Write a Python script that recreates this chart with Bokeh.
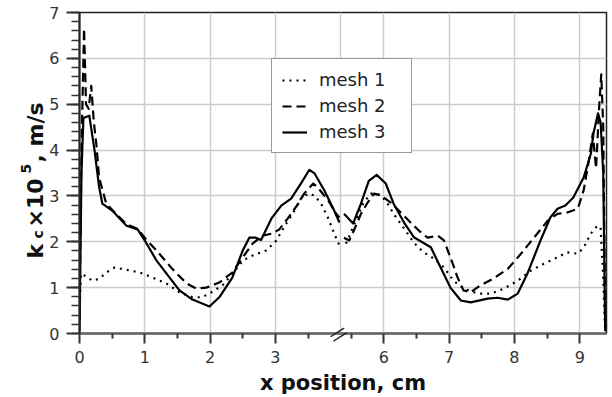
import math

from bokeh.plotting import figure
from bokeh.layouts import row
from bokeh.models import Range1d, FixedTicker, Legend, LegendItem, LinearAxis
from bokeh.core.properties import value
from bokeh.embed import file_html
from bokeh.resources import INLINE

# ---- data: local mass-transfer coefficient along the cell (x in cm) ----
mesh1_x = [0.0, 0.02, 0.08, 0.2, 0.31, 0.41, 0.54, 0.72, 0.92, 1.12, 1.33,
           1.53, 1.73, 1.88, 2.02, 2.19, 2.34, 2.5, 2.65, 2.86, 3.01, 3.13,
           3.29, 3.39, 3.5, 3.6, 3.7, 3.81, 3.9, 3.98,
           5.42, 5.49, 5.57, 5.68, 5.8, 5.9, 6.03, 6.15, 6.31, 6.46, 6.6,
           6.77, 6.92, 7.07, 7.22, 7.44, 7.64, 7.84, 8.05, 8.25, 8.45, 8.66,
           8.81, 8.97, 9.06, 9.17, 9.27, 9.32, 9.36, 9.39]
mesh1_k = [0.3, 1.3, 1.26, 1.15, 1.2, 1.33, 1.44, 1.39, 1.33, 1.22, 1.09,
           0.9, 0.79, 0.79, 0.9, 1.05, 1.3, 1.59, 1.7, 1.81, 2.02, 2.31,
           2.68, 2.94, 3.05, 3.01, 2.83, 2.51, 2.18, 1.92,
           1.96, 2.18, 2.46, 2.83, 3.05, 3.05, 2.9, 2.61, 2.29, 1.98, 1.78,
           1.63, 1.44, 1.15, 0.98, 0.87, 0.87, 0.98, 1.15, 1.37, 1.52, 1.66,
           1.77, 1.74, 1.87, 2.18, 2.35, 2.31, 1.2, 0.05]

mesh2_x = [0.0, 0.03, 0.07, 0.1, 0.14, 0.18, 0.22, 0.26, 0.3, 0.41, 0.5,
           0.72, 0.89, 1.02, 1.18, 1.42, 1.64, 1.79, 1.94, 2.14, 2.34, 2.5,
           2.65, 2.8, 2.95, 3.06, 3.19, 3.35, 3.44, 3.58, 3.65, 3.81, 3.93,
           3.98,
           5.39, 5.47, 5.54, 5.65, 5.75, 5.85, 5.96, 6.11, 6.26, 6.41, 6.54,
           6.67, 6.83, 6.92, 7.02, 7.13, 7.22, 7.33, 7.48, 7.68, 7.9, 8.1,
           8.3, 8.51, 8.66, 8.81, 8.97, 9.06, 9.14, 9.2, 9.25, 9.3, 9.33,
           9.36, 9.39]
mesh2_k = [0.3, 4.0, 6.65, 5.0, 4.9, 5.4, 4.6, 4.1, 3.4, 2.83, 2.7,
           2.38, 2.28, 2.05, 1.81, 1.41, 1.09, 0.98, 1.0, 1.11, 1.33, 1.66,
           1.96, 2.13, 2.18, 2.27, 2.51, 2.83, 3.05, 3.27, 3.18, 2.9, 2.61,
           2.53,
           2.09, 2.03, 2.24, 2.61, 2.85, 3.05, 3.01, 2.85, 2.64, 2.42, 2.24,
           2.09, 2.13, 2.03, 1.66, 1.22, 0.94, 0.9, 1.05, 1.2, 1.41, 1.74,
           2.09, 2.46, 2.61, 2.64, 2.72, 3.12, 3.77, 4.36, 3.6, 5.0, 5.65,
           4.5, 0.05]

mesh3_x = [0.0, 0.03, 0.06, 0.15, 0.23, 0.3, 0.35, 0.5, 0.72, 0.89, 1.02,
           1.18, 1.38, 1.53, 1.73, 1.99, 2.14, 2.34, 2.5, 2.6, 2.7, 2.78,
           2.94, 3.09, 3.24, 3.39, 3.52, 3.6, 3.75, 3.9, 3.98,
           5.39, 5.53, 5.65, 5.77, 5.89, 6.03, 6.15, 6.31, 6.46, 6.72, 6.87,
           7.02, 7.18, 7.33, 7.59, 7.74, 7.9, 8.05, 8.2, 8.4, 8.55, 8.66,
           8.78, 8.9, 9.06, 9.17, 9.21, 9.28, 9.32, 9.36, 9.39]
mesh3_k = [0.05, 3.5, 4.7, 4.75, 4.0, 3.2, 2.83, 2.68, 2.35, 2.27, 1.98,
           1.59, 1.22, 0.94, 0.74, 0.59, 0.79, 1.22, 1.81, 2.09, 2.09, 2.04,
           2.51, 2.79, 2.94, 3.27, 3.57, 3.49, 3.12, 2.68, 2.42,
           2.61, 2.4, 2.83, 3.33, 3.46, 3.27, 2.83, 2.42, 2.1, 1.88, 1.44,
           1.0, 0.72, 0.68, 0.76, 0.78, 0.74, 0.87, 1.31, 2.03, 2.53, 2.72,
           2.79, 2.96, 3.4, 3.92, 4.36, 4.8, 4.6, 3.5, 0.05]

series_names = ["mesh 1", "mesh 2", "mesh 3"]
series_dash = ["2 5", "9 5", "solid"]

x_major = [0, 1, 2, 3, 6, 7, 8, 9]
x_minor = [0.5, 1.5, 2.5, 3.5, 5.5, 6.5, 7.5, 8.5]
x_grid = [1, 2, 3, 4, 6, 7, 8, 9]
x_end = 9.41

# ---- broken x axis: the stretch between BREAK_AT and RESUME_AT is cut out ----
BREAK_AT = 4.0
RESUME_AT = 5.34
GAP = RESUME_AT - BREAK_AT


def to_axis(x):
    return x if x <= BREAK_AT else x - GAP


def split_series(xs, ys):
    """Map positions onto the broken axis and break the line across the cut."""
    out_x, out_y = [], []
    for i, (x, y) in enumerate(zip(xs, ys)):
        if i > 0 and xs[i - 1] <= BREAK_AT < x:
            out_x.append(float("nan"))
            out_y.append(float("nan"))
        out_x.append(to_axis(x))
        out_y.append(y)
    return out_x, out_y


FONT = "DejaVu Sans"
TITLE_W = 46          # strip on the left that carries the y-axis title
H = 397
BORDER_TOP, BORDER_BOTTOM = 12, 64
FRAME_H = H - BORDER_TOP - BORDER_BOTTOM

p = figure(width=612 - TITLE_W, height=H, output_backend="svg",
           toolbar_location=None,
           x_range=Range1d(0, to_axis(x_end)), y_range=Range1d(0, 7),
           min_border_left=78 - TITLE_W, min_border_right=6,
           min_border_top=BORDER_TOP, min_border_bottom=BORDER_BOTTOM)
p.background_fill_color = "white"
p.border_fill_color = "white"
p.outline_line_color = "#222222"
p.outline_line_width = 1.5

# x axis
xticks = [to_axis(v) for v in x_major]
p.xaxis.ticker = FixedTicker(ticks=xticks,
                             minor_ticks=[to_axis(v) for v in x_minor])
p.xaxis.major_label_overrides = {t: str(v) for t, v in zip(xticks, x_major)}
p.xaxis.axis_label = "x position, cm"
p.xaxis.axis_label_text_font = FONT
p.xaxis.axis_label_text_font_style = "bold"
p.xaxis.axis_label_text_font_size = "21px"
p.xaxis.axis_label_text_color = "#111111"
p.xaxis.axis_label_standoff = 5
p.xaxis.axis_line_color = "#666666"
p.xaxis.axis_line_width = 2.5
p.xaxis.major_tick_out = 10
p.xaxis.major_tick_in = 0
p.xaxis.minor_tick_out = 5
p.xaxis.minor_tick_in = 0
p.xaxis.major_tick_line_width = 2
p.xaxis.minor_tick_line_width = 2
p.xaxis.major_tick_line_color = "#333333"
p.xaxis.minor_tick_line_color = "#333333"
p.xaxis.major_label_standoff = 7

# y axis
p.yaxis.ticker = FixedTicker(ticks=list(range(0, 8)),
                             minor_ticks=[i / 5 for i in range(36)])
p.yaxis.axis_line_color = "#222222"
p.yaxis.axis_line_width = 2
p.yaxis.major_tick_out = 13
p.yaxis.major_tick_in = 0
p.yaxis.minor_tick_out = 8
p.yaxis.minor_tick_in = 0
p.yaxis.major_tick_line_width = 2
p.yaxis.minor_tick_line_width = 1.5
p.yaxis.major_tick_line_color = "#333333"
p.yaxis.minor_tick_line_color = "#333333"
p.yaxis.major_label_standoff = 7

for ax in (p.xaxis, p.yaxis):
    ax.major_label_text_font = FONT
    ax.major_label_text_font_size = "16px"
    ax.major_label_text_color = "#333333"

# the "//" break symbol, drawn by a bare axis whose only label sits on the cut
break_tick = BREAK_AT - 0.06
brk = LinearAxis(ticker=FixedTicker(ticks=[break_tick], minor_ticks=[]),
                 major_label_overrides={break_tick: "||"},
                 axis_line_color=None, major_tick_line_color=None,
                 minor_tick_line_color=None, major_label_standoff=-74,
                 major_label_orientation=-1.0,
                 major_label_text_font=FONT,
                 major_label_text_font_size="16px",
                 major_label_text_color="#222222")
p.add_layout(brk, "below")

# grid
p.xgrid.ticker = FixedTicker(ticks=[to_axis(v) for v in x_grid])
p.ygrid.ticker = FixedTicker(ticks=list(range(1, 7)))
for g in (p.xgrid, p.ygrid):
    g.grid_line_color = "#cccccc"
    g.grid_line_width = 1.5

# curves
items = []
for name, dash, xs, ys in zip(series_names, series_dash,
                              [mesh1_x, mesh2_x, mesh3_x],
                              [mesh1_k, mesh2_k, mesh3_k]):
    ax_x, ax_y = split_series(xs, ys)
    r = p.line(ax_x, ax_y, line_color="black", line_width=2.2,
               line_dash=dash, line_join="round")
    items.append(LegendItem(label=name, renderers=[r]))

legend = Legend(items=items, location=(192, 180))
legend.border_line_color = "#333333"
legend.border_line_width = 1.5
legend.background_fill_alpha = 1.0
legend.label_text_font = FONT
legend.label_text_font_size = "18px"
legend.label_text_color = "#222222"
legend.glyph_width = 25
legend.glyph_height = 20
legend.label_height = 20
legend.spacing = 5
legend.padding = 10
legend.margin = 0
legend.label_standoff = 12
legend.label_width = 82
p.add_layout(legend)

# ---- y-axis title strip: k_c x 10^5, m/s, read bottom to top ----
# The strip's frame lines up with the main frame, so y here counts pixels
# upward from the bottom of the plotting area.
t = figure(width=TITLE_W, height=H, output_backend="svg",
           toolbar_location=None, x_axis_location=None, y_axis_location=None,
           x_range=Range1d(0, TITLE_W), y_range=Range1d(0, FRAME_H),
           min_border_left=0, min_border_right=0,
           min_border_top=BORDER_TOP, min_border_bottom=BORDER_BOTTOM)
t.outline_line_color = None
t.grid.visible = False
t.background_fill_color = "white"
t.border_fill_color = "white"

title_parts = [  # text, baseline x, start y, size
    ("k", 35, 75, "22px"),
    ("c", 37, 95, "14px"),
    ("\u00d710", 35, 106, "22px"),
    ("5", 25, 160, "14px"),
    (", m/s", 35, 171, "22px"),
]
for txt, bx, by, size in title_parts:
    t.text(x=[bx], y=[by], text=[txt], angle=math.pi / 2,
           text_font=value(FONT), text_font_style="bold",
           text_font_size=size, text_color="#111111",
           text_align="left", text_baseline="alphabetic")

layout = row(t, p, spacing=0)
open("out.html", "w").write(file_html(layout, INLINE))
